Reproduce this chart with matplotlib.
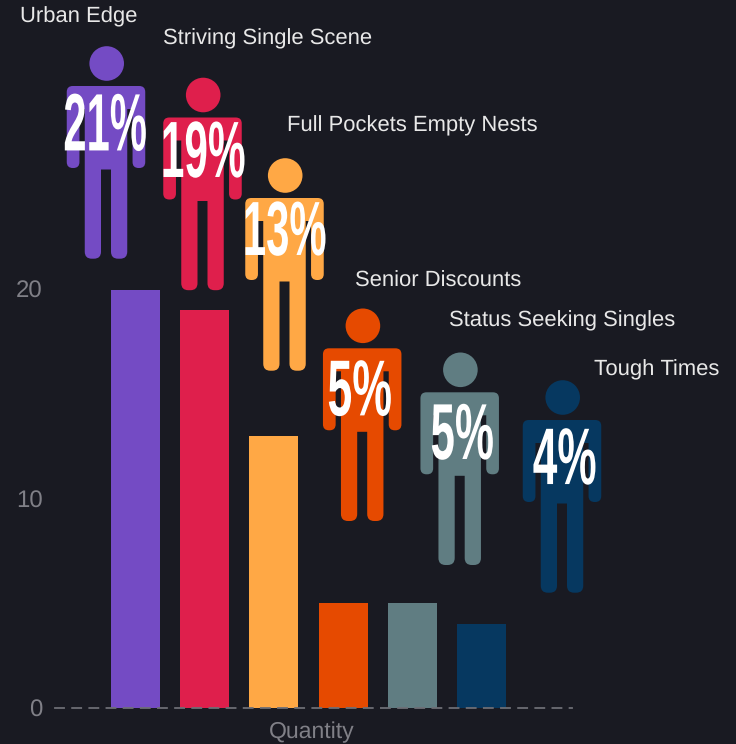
import matplotlib
matplotlib.use("Agg")
import matplotlib.pyplot as plt
from matplotlib.path import Path
from matplotlib.patches import PathPatch, Circle
from matplotlib.patheffects import AbstractPathEffect
from matplotlib.transforms import Affine2D

# ---- data ----
categories = ["Urban Edge", "Striving Single Scene", "Full Pockets Empty Nests",
              "Senior Discounts", "Status Seeking Singles", "Tough Times"]
quantity = [20, 19, 13, 5, 5, 4]
percent_labels = ["21%", "19%", "13%", "5%", "5%", "4%"]
y_ticks = [0, 10, 20]
axis_title = "Quantity"

# ---- style / layout (reference pixels) ----
W, H = 736, 744
BG = "#191a22"
colors = ["#744bc4", "#df1f4c", "#ffa845", "#e64a00", "#607d82", "#063860"]
person_x = [106, 202.5, 284.5, 362.2, 459.7, 562]
person_top = [86, 117.5, 198, 348.3, 392.3, 420]
pct_x = [105.5, 203.5, 285, 360, 462.5, 565]
pct_base = [150.7, 177.3, 255.3, 415.7, 459.3, 484.3]
pct_width = [81, 81, 80, 62, 61, 62]
pct_height = [57.5, 56.5, 54.5, 56, 56, 56.5]
label_x = [20, 163, 287, 355, 449, 594]
label_y = [17, 39, 126, 281, 321, 370]

plt.rcParams["font.family"] = ["Liberation Sans", "DejaVu Sans"]
plt.rcParams["text.hinting"] = "no_hinting"
plt.rcParams["text.hinting_factor"] = 1
fig = plt.figure(figsize=(W / 100, H / 100), dpi=100, facecolor=BG)

# chart axes
ax = fig.add_axes([55 / W, 1 - 708 / H, (572 - 55) / W, (708 - 289.5) / H], facecolor="none")
xpos = list(range(len(quantity)))
ax.bar(xpos, quantity, width=0.705, color=colors)
ax.set_xlim(-1.158, 6.30)
ax.set_ylim(0, 20)
ax.set_yticks(y_ticks)
ax.set_xticks([])
ax.tick_params(axis="y", length=0, pad=9, labelsize=17, labelcolor="#808087")
for s in ("top", "left", "right"):
    ax.spines[s].set_visible(False)
sp = ax.spines["bottom"]
sp.set_color("#6d6e75")
sp.set_linewidth(1.3)
sp.set_linestyle((0, (5, 4.5)))
ax.set_xlabel(axis_title, fontsize=16.8, color="#808087", labelpad=9.5, x=0.497)

# overlay in pixel coordinates for the pictograms
ov = fig.add_axes([0, 0, 1, 1], facecolor="none")
ov.set_xlim(0, W)
ov.set_ylim(H, 0)
ov.axis("off")


def rounded(points):
    verts, codes = [], []
    n = len(points)
    for i, (x, y, r) in enumerate(points):
        px, py, _ = points[i - 1]
        nx, ny, _ = points[(i + 1) % n]
        def toward(ax_, ay_):
            d = ((ax_ - x) ** 2 + (ay_ - y) ** 2) ** 0.5
            return x + (ax_ - x) * r / d, y + (ay_ - y) * r / d
        if r > 0:
            a = toward(px, py)
            b = toward(nx, ny)
            verts += [a, (x, y), b]
            codes += [Path.LINETO, Path.CURVE3, Path.CURVE3]
        else:
            verts.append((x, y))
            codes.append(Path.LINETO)
    codes[0] = Path.MOVETO
    verts.append(verts[0])
    codes.append(Path.CLOSEPOLY)
    return verts, codes


def person(cx, top, color):
    right = [(39.25, 0, 6), (39.25, 82, 6), (26.55, 82, 6), (26.55, 23, 0), (21.25, 23, 0),
             (21.25, 172.7, 7), (5, 172.7, 7), (5, 83.5, 0)]
    left = [(-x, y, r) for x, y, r in reversed(right)]
    pts = [(cx + x, top + y, r) for x, y, r in right + left]
    v, c = rounded(pts)
    ov.add_patch(PathPatch(Path(v, c), facecolor=color, edgecolor="none"))
    ov.add_patch(Circle((cx + 0.7, top - 22.5), 17.3, facecolor=color, edgecolor="none"))


class Condense(AbstractPathEffect):
    """Stretch text to a set box, like a tall condensed display face."""
    def __init__(self, width, height):
        super().__init__()
        self.width = width
        self.height = height

    def draw_path(self, renderer, gc, tpath, affine, rgbFace=None):
        box = tpath.get_extents(affine)
        cx = (box.x0 + box.x1) / 2
        t = affine + (Affine2D().translate(-cx, -box.y0)
                      .scale(self.width / box.width, self.height / box.height)
                      .translate(cx, box.y0))
        gc0 = renderer.new_gc()
        gc0.copy_properties(gc)
        gc0.set_linewidth(0)
        renderer.draw_path(gc0, tpath, t, rgbFace)
        gc0.restore()


for i, c in enumerate(colors):
    person(person_x[i], person_top[i], c)
    ov.text(pct_x[i], pct_base[i], percent_labels[i], color="white",
            family=["Liberation Sans Narrow", "Liberation Sans"], weight="bold",
            fontsize=35, ha="center", va="baseline",
            path_effects=[Condense(pct_width[i], pct_height[i])])
    ov.text(label_x[i], label_y[i], categories[i], color="#e8e8e8", fontsize=15.5,
            ha="left", va="center")

fig.savefig("out.png", dpi=100, facecolor=BG)
